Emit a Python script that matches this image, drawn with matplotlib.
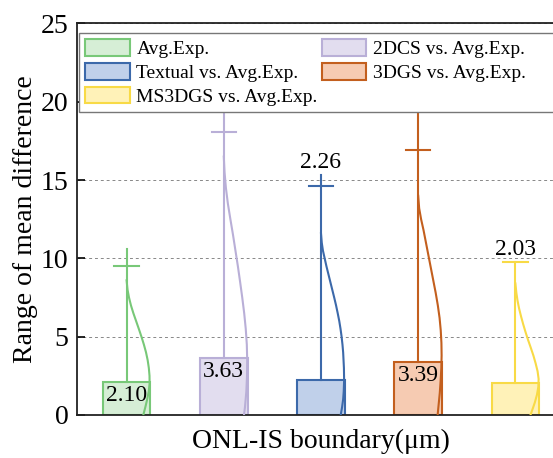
import numpy as np
import matplotlib
matplotlib.use("Agg")
import matplotlib.pyplot as plt
from matplotlib.patches import Patch

plt.rcParams["font.family"] = ["Liberation Serif", "DejaVu Serif"]

# данные
groups = ["Avg.Exp.", "2DCS vs. Avg.Exp.", "Textual vs. Avg.Exp.",
          "3DGS vs. Avg.Exp.", "MS3DGS vs. Avg.Exp."]
means = [2.10, 3.63, 2.26, 3.39, 2.03]
caps = [9.5, 18.1, 14.6, 16.9, 9.76]
tops = [10.6, 24.0, 15.3, 24.0, 9.76]
label_inside = [True, True, False, True, False]

# профили половинок скрипичных диаграмм: уровень -> полуширина
green_y = [8.6, 8.0, 7.5, 7.0, 6.5, 6.0, 5.5, 5.0, 4.5, 4.0, 3.5, 3.0, 2.5, 2.0, 1.5, 1.0, 0.5, 0.0]
green_w = [0.0, 0.01, 0.025, 0.045, 0.07, 0.098, 0.126, 0.153, 0.178, 0.2, 0.217, 0.229,
           0.236, 0.237, 0.228, 0.212, 0.193, 0.172]
purple_y = [16.5, 15.5, 14.5, 13.5, 12.5, 11.5, 10.5, 9.5, 8.5, 7.5, 6.5, 5.5, 4.5, 3.5,
            2.5, 1.5, 0.5, 0.0]
purple_w = [0.0, 0.008, 0.022, 0.042, 0.068, 0.095, 0.12, 0.145, 0.168, 0.19, 0.21, 0.226,
            0.237, 0.241, 0.239, 0.232, 0.218, 0.208]
blue_y = [11.6, 11.0, 10.5, 10.0, 9.5, 9.0, 8.5, 8.0, 7.5, 7.0, 6.5, 6.0, 5.5, 5.0, 4.5,
          4.0, 3.0, 2.2, 1.5, 1.0, 0.5, 0.0]
blue_w = [0.0, 0.008, 0.02, 0.038, 0.056, 0.076, 0.096, 0.116, 0.136, 0.155, 0.172, 0.188,
          0.201, 0.212, 0.221, 0.228, 0.236, 0.238, 0.234, 0.228, 0.217, 0.203]
orange_y = [14.0, 13.2, 12.5, 11.8, 11.0, 10.2, 9.4, 8.6, 7.8, 7.0, 6.2, 5.4, 4.6, 3.8,
            3.0, 2.2, 1.4, 0.7, 0.0]
orange_w = [0.0, 0.01, 0.03, 0.055, 0.08, 0.105, 0.13, 0.155, 0.18, 0.202, 0.22, 0.232,
            0.239, 0.241, 0.238, 0.231, 0.222, 0.211, 0.2]
yellow_y = [8.4, 7.8, 7.3, 6.8, 6.3, 5.8, 5.3, 4.8, 4.3, 3.8, 3.3, 2.8, 2.3, 1.8, 1.3,
            0.8, 0.4, 0.0]
yellow_w = [0.0, 0.01, 0.022, 0.038, 0.058, 0.08, 0.104, 0.13, 0.158, 0.185, 0.208, 0.228,
            0.239, 0.236, 0.222, 0.2, 0.178, 0.155]

violin_y = [green_y, purple_y, blue_y, orange_y, yellow_y]
violin_w = [green_w, purple_w, blue_w, orange_w, yellow_w]

edge_colors = ["#78c878", "#b9afd7", "#3c69aa", "#c35f1e", "#f8da46"]
face_colors = ["#d6eed6", "#e2ddef", "#c0d0ea", "#f6cbb2", "#fff2b8"]

fig = plt.figure(figsize=(5.53, 4.58), dpi=100)
W, H = 553, 458
ax = fig.add_axes([77 / W, (H - 415) / H, (564 - 77) / W, (415 - 23.5) / H])

x = np.arange(len(groups))
bar_w = 0.49
cap_w = 0.125

ax.bar(x, means, width=bar_w, color=face_colors, edgecolor=edge_colors,
       linewidth=1.5, zorder=2)

for i in range(len(groups)):
    c = edge_colors[i]
    # вертикальная линия от среднего до максимума
    ax.plot([x[i], x[i]], [means[i], tops[i]], color=c, lw=1.5, zorder=3)
    # засечка
    ax.plot([x[i] - cap_w, x[i] + cap_w], [caps[i], caps[i]], color=c, lw=1.5, zorder=3)
    # правая половина скрипки
    vx = x[i] + np.array(violin_w[i])
    ax.plot(vx, violin_y[i], color=c, lw=1.5, zorder=3, solid_joinstyle="round")

    if label_inside[i]:
        ax.annotate(f"{means[i]:.2f}", (x[i], means[i]), xytext=(0, -2),
                    textcoords="offset points", ha="center", va="top",
                    fontsize=17, zorder=4)
    else:
        ax.annotate(f"{means[i]:.2f}", (x[i], tops[i]), xytext=(0, 1.5),
                    textcoords="offset points", ha="center", va="bottom",
                    fontsize=17, zorder=4)

ax.set_xlim(-0.51, 4.5)
ax.set_ylim(0, 25)
ax.set_yticks([0, 5, 10, 15, 20, 25])
ax.set_xticks([])
ax.tick_params(axis="y", direction="in", length=6, width=1.2, labelsize=20, pad=6)
ax.yaxis.grid(True, linestyle=(0, (3, 3)), color="#888888", linewidth=0.7, zorder=0)
ax.set_axisbelow(True)
for s in ax.spines.values():
    s.set_linewidth(1.3)
    s.set_color("#222222")

ax.set_ylabel("Range of mean difference", fontsize=20, labelpad=2)
ax.set_xlabel("ONL-IS boundary(μm)", fontsize=20, labelpad=10)

# легенда: третий пустой столбец, чтобы рамка уходила за правый край
blank = Patch(facecolor="none", edgecolor="none", label=" ")
handles = [Patch(facecolor=face_colors[i], edgecolor=edge_colors[i], linewidth=1.5,
                 label=groups[i]) for i in [0, 2, 4, 1, 3]]
handles = handles + [blank] * 4
leg = ax.legend(handles=handles, ncol=3, fontsize=14, loc="upper left",
                bbox_to_anchor=(79 / W, 1 - 33 / H), bbox_transform=fig.transFigure,
                borderaxespad=0, frameon=True, fancybox=False, framealpha=1,
                edgecolor="#777777", handlelength=2.3, handleheight=0.95,
                handletextpad=0.35, columnspacing=0.2, labelspacing=0.25,
                borderpad=0.3)
leg.set_zorder(10)
leg.get_frame().set_linewidth(1.0)

fig.savefig("out.png", dpi=100)
